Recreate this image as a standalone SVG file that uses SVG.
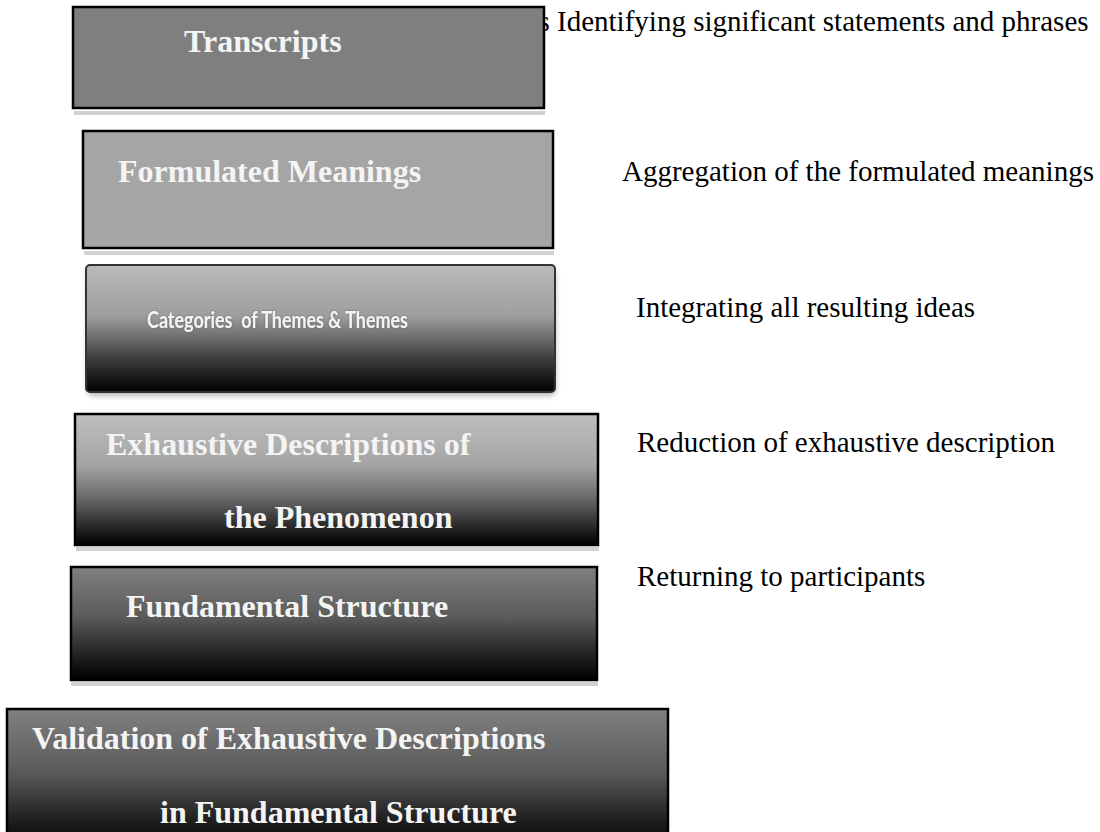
<svg xmlns="http://www.w3.org/2000/svg" width="1100" height="832" viewBox="0 0 1100 832">
<style>
.box{stroke:#000;stroke-width:2.5}
.shadow{fill:#d2d2d2}
.bt{font-family:"Liberation Serif","Times New Roman",serif;font-weight:bold;font-size:32px;fill:#f4f4f4}
.rt{font-family:"Liberation Serif","Times New Roman",serif;font-size:29px;fill:#000}
.st{font-family:Lato,"Open Sans","Liberation Sans",sans-serif;font-weight:bold;font-size:22px;fill:#f4f4f4}
</style>
<defs>
<linearGradient id="gCat" x1="0" y1="0" x2="0" y2="1">
<stop offset="0" stop-color="#bababa"/>
<stop offset="0.4" stop-color="#9e9e9e"/>
<stop offset="0.75" stop-color="#3a3a3a"/>
<stop offset="1" stop-color="#000"/>
</linearGradient>
<linearGradient id="gExh" x1="0" y1="0" x2="0" y2="1">
<stop offset="0" stop-color="#bfbfbf"/>
<stop offset="0.4" stop-color="#a3a3a3"/>
<stop offset="0.65" stop-color="#666"/>
<stop offset="0.9" stop-color="#1c1c1c"/>
<stop offset="1" stop-color="#000"/>
</linearGradient>
<linearGradient id="gDark" x1="0" y1="0" x2="0" y2="1">
<stop offset="0" stop-color="#808080"/>
<stop offset="0.45" stop-color="#5a5a5a"/>
<stop offset="0.8" stop-color="#1e1e1e"/>
<stop offset="1" stop-color="#000"/>
</linearGradient>
<filter id="soft" x="-5%" y="-10%" width="110%" height="130%">
<feGaussianBlur stdDeviation="3"/>
</filter>
<filter id="glow" x="-5%" y="-30%" width="110%" height="160%">
<feGaussianBlur in="SourceAlpha" stdDeviation="1.2" result="b"/>
<feFlood flood-color="#555" flood-opacity="0.7"/>
<feComposite in2="b" operator="in" result="s"/>
<feMerge><feMergeNode in="s"/><feMergeNode in="SourceGraphic"/></feMerge>
</filter>
</defs>
<g id="connectors"/>
<g id="label-identifying">
<text class="rt" x="538.5" y="31">s Identifying significant statements and phrases</text>
</g>
<g id="node-transcripts">
<rect class="shadow" x="74" y="111" width="471" height="4"/>
<rect class="box" x="73" y="7" width="471" height="101" fill="#7f7f7f"/>
<text class="bt" x="184" y="52">Transcripts</text>
</g>
<g id="node-formulated">
<rect class="shadow" x="84" y="251" width="470" height="4"/>
<rect class="box" x="83" y="131" width="470" height="117" fill="#a5a5a5"/>
<text class="bt" x="118" y="182">Formulated Meanings</text>
</g>
<g id="label-aggregation">
<text class="rt" x="622" y="181">Aggregation of the formulated meanings</text>
</g>
<g id="node-categories">
<rect x="88" y="270" width="467" height="125" rx="4" fill="#000" opacity="0.35" filter="url(#soft)"/>
<rect x="86" y="265" width="469" height="127" rx="4" fill="url(#gCat)" stroke="#333" stroke-width="2"/>
<text class="st" x="147" y="328" textLength="261" lengthAdjust="spacingAndGlyphs" filter="url(#glow)" xml:space="preserve">Categories  of Themes &amp; Themes</text>
</g>
<g id="label-integrating">
<text class="rt" x="636" y="317">Integrating all resulting ideas</text>
</g>
<g id="node-exhaustive">
<rect class="shadow" x="76" y="547" width="523" height="4"/>
<rect class="box" x="75" y="414" width="523" height="131" fill="url(#gExh)"/>
<text class="bt" x="106" y="455">Exhaustive Descriptions of</text>
<text class="bt" x="224" y="528">the Phenomenon</text>
</g>
<g id="label-reduction">
<text class="rt" x="637" y="452">Reduction of exhaustive description</text>
</g>
<g id="node-fundamental">
<rect class="shadow" x="71" y="682" width="527" height="4"/>
<rect class="box" x="71" y="567" width="526" height="113" fill="url(#gDark)"/>
<text class="bt" x="126" y="617">Fundamental Structure</text>
</g>
<g id="label-returning">
<text class="rt" x="637" y="586">Returning to participants</text>
</g>
<g id="node-validation">
<rect class="box" x="7" y="709" width="661" height="140" fill="url(#gDark)"/>
<text class="bt" x="32" y="749">Validation of Exhaustive Descriptions</text>
<text class="bt" x="160" y="823">in Fundamental Structure</text>
</g>
</svg>
